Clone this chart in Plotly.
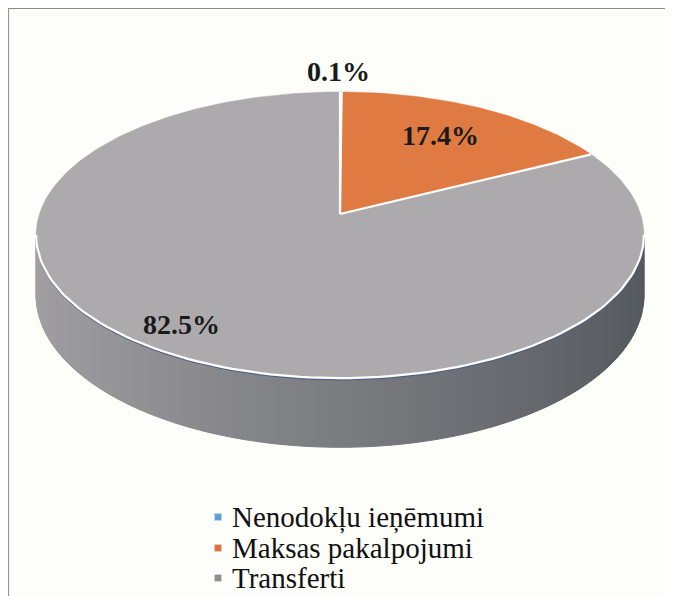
import math
import plotly.graph_objects as go

# ---- data ----
categories = ["Nenodokļu ieņēmumi", "Maksas pakalpojumi", "Transferti"]
shares = [0.1, 17.4, 82.5]
label_texts = ["0.1%", "17.4%", "82.5%"]

# ---- style ----
top_colors = ["#5B9BD5", "#DF7A42", "#ADAAAD"]
legend_colors = ["#5A9FD8", "#E0703A", "#8F8F8F"]
label_radius = [1.2, 0.723, 0.83]
label_xshift = [-2, -4, -13]
SERIF = "Liberation Serif, Times New Roman, Tinos, DejaVu Serif, serif"

W, H = 673, 596
OFF = 8                     # page body margin compensation
CX, CY = 340, 214          # projected pie centre (page px)
A, B, K = 300.6, 140.0, -0.147
DEPTH = 59.0


def proj(u, v):
    w = 1 + K * v
    return CX + A * u / w, CY + B * v / w, w


def rim(phi_deg, r=1.0):
    p = math.radians(phi_deg)
    return proj(r * math.sin(p), -r * math.cos(p))


fig = go.Figure()

# slice angles (clockwise from 12 o'clock)
total = sum(shares)
bounds = [0.0]
for s in shares:
    bounds.append(bounds[-1] + 360.0 * s / total)

# ---- side wall (visible front part) ----
sil = math.degrees(math.acos(K))
sil_a, sil_b = sil, 360 - sil
light = (162, 160, 163)
dark = (84, 89, 94)
nseg = 120
for i in range(nseg):
    a = sil_a + (sil_b - sil_a) * i / nseg
    b = sil_a + (sil_b - sil_a) * (i + 1) / nseg
    m = (a + b) / 2
    t = (1 + math.sin(math.radians(m))) / 2
    col = tuple(int(light[j] + (dark[j] - light[j]) * t) for j in range(3))
    c = "rgb(%d,%d,%d)" % col
    xs, ys = [], []
    for ph in [a, b]:
        x, y, w = rim(ph)
        xs.append(x); ys.append(y)
    for ph in [b, a]:
        x, y, w = rim(ph)
        xs.append(x); ys.append(y + DEPTH / w)
    xs.append(xs[0]); ys.append(ys[0])
    fig.add_trace(go.Scatter(x=xs, y=ys, mode="lines", fill="toself",
                             fillcolor=c, line=dict(color=c, width=1),
                             hoverinfo="skip", showlegend=False))

# ---- top faces ----
for i, name in enumerate(categories):
    a, b = bounds[i], bounds[i + 1]
    n = max(2, int((b - a) / 1.0) + 1)
    xs, ys = [CX], [CY]
    for k in range(n + 1):
        x, y, _ = rim(a + (b - a) * k / n)
        xs.append(x); ys.append(y)
    xs.append(CX); ys.append(CY)
    fig.add_trace(go.Scatter(x=xs, y=ys, mode="lines", fill="toself",
                             fillcolor=top_colors[i],
                             line=dict(color=top_colors[i], width=0.5),
                             name=name, hoverinfo="name", showlegend=False))

# separators
for ang in bounds[:-1]:
    x, y, _ = rim(ang)
    fig.add_trace(go.Scatter(x=[CX, x], y=[CY, y], mode="lines",
                             line=dict(color="white", width=2.2),
                             hoverinfo="skip", showlegend=False))

# front rim highlight
xs, ys = [], []
for k in range(101):
    x, y, _ = rim(sil_a + (sil_b - sil_a) * k / 100)
    xs.append(x); ys.append(y)
fig.add_trace(go.Scatter(x=xs, y=[v + 1.8 for v in ys], mode="lines",
                         line=dict(color="#46608C", width=1),
                         hoverinfo="skip", showlegend=False))
fig.add_trace(go.Scatter(x=xs, y=ys, mode="lines",
                         line=dict(color="white", width=2.2),
                         hoverinfo="skip", showlegend=False))

# ---- data labels ----
for i, txt in enumerate(label_texts):
    mid = (bounds[i] + bounds[i + 1]) / 2
    x, y, _ = rim(mid, label_radius[i])
    fig.add_annotation(x=x, y=y, text="<b>%s</b>" % txt, showarrow=False,
                       xshift=label_xshift[i],
                       font=dict(family=SERIF, size=28, color="#1A1A1A"))

# ---- legend ----
leg_y = [517, 548, 578]
fig.add_trace(go.Scatter(x=[218] * 3, y=leg_y, mode="markers",
                         marker=dict(symbol="square", size=7, color=legend_colors,
                                     line=dict(color="#DDDDDD", width=0.5)),
                         hoverinfo="skip", showlegend=False))
for i, name in enumerate(categories):
    fig.add_annotation(x=230, y=leg_y[i], text=name, showarrow=False,
                       xanchor="left", yanchor="middle",
                       font=dict(family=SERIF, size=29, color="#111111"))

# frame lines
fig.add_shape(type="line", x0=8.6, x1=8.6, y0=8, y1=H + OFF, line=dict(color="#8A8A8A", width=1))
fig.add_shape(type="line", x0=8, x1=W + OFF, y0=8.5, y1=8.5, line=dict(color="#8A8A8A", width=1))

fig.update_layout(
    width=W, height=H,
    margin=dict(l=0, r=0, t=0, b=0),
    paper_bgcolor="#FDFDFA", plot_bgcolor="#FDFDFA",
    xaxis=dict(range=[OFF, W + OFF], visible=False, fixedrange=True),
    yaxis=dict(range=[H + OFF, OFF], visible=False, fixedrange=True),
    showlegend=False,
)

fig.write_html("out.html")
